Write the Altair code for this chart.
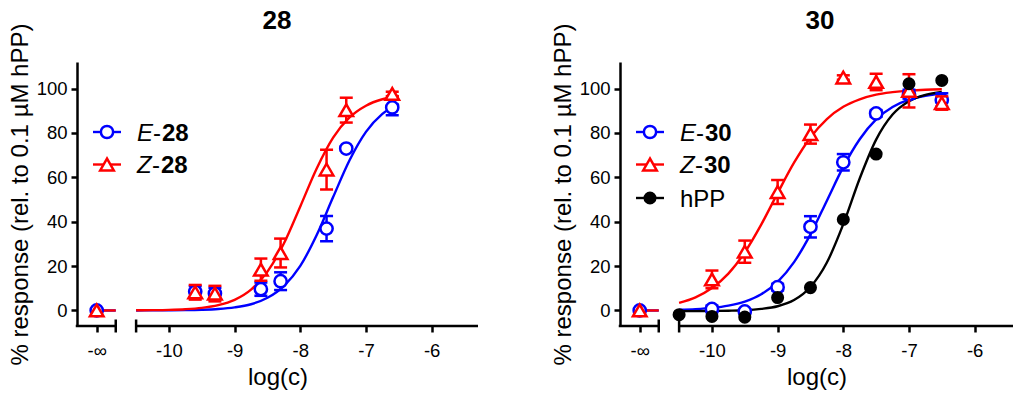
import altair as alt
import pandas as pd

FONT = "Liberation Sans"
BLUE = "#0000ff"
RED = "#ff0000"
BLACK = "#000000"

# ---------------- axis layout (log units) ----------------
X_MIN = -11.4          # left end of the x axis (at the y axis)
NEG_INF_POS = -11.1    # where the "-inf" (no agonist) points sit
BREAK_LO = -10.81      # end of the "-inf" axis segment
BREAK_HI = -10.5       # start of the main axis segment
X_MAX_28 = -5.294
X_MAX_30 = -5.416
X_TICKS = [-10, -9, -8, -7, -6]
Y_TICKS = [0, 20, 40, 60, 80, 100]
Y_DOMAIN = [-7, 112]

PLOT_H = 264
W_28 = 401
W_30 = 393

Y_TITLE = "% response (rel. to 0.1 \u00b5M hPP)"
X_TITLE = "log(c)"

# ---------------- data: compound 28 ----------------
P28_X = [-9.6, -9.3, -8.6, -8.3, -7.6, -7.3, -6.6]
E28_Y = [8.5, 7.7, 9.6, 13.2, 36.9, 73.0, 91.5]
E28_ERR = [2.5, 2.5, 3.0, 4.0, 5.7, 1.0, 3.5]
Z28_Y = [8.2, 7.6, 18.4, 25.9, 63.5, 90.3, 97.6]
Z28_ERR = [3.3, 3.5, 5.0, 6.5, 9.0, 5.6, 1.0]

# ---------------- data: compound 30 ----------------
P30_X = [-10.0, -9.5, -9.0, -8.5, -8.0, -7.5, -7.0, -6.5]
E30_Y = [0.7, -0.4, 10.5, 37.7, 66.8, 88.8, 97.5, 94.9]
E30_ERR = [1.5, 1.0, 1.5, 4.8, 3.7, 1.5, 2.0, 3.0]
Z30_Y = [14.0, 26.5, 53.4, 79.5, 105.0, 103.0, 99.0, 93.5]
Z30_ERR = [4.0, 5.0, 5.4, 4.3, 1.0, 3.7, 7.5, 3.0]
HPP_X = [-10.5, -10.0, -9.5, -9.0, -8.5, -8.0, -7.5, -7.0, -6.5]
HPP_Y = [-1.9, -2.7, -3.0, 5.8, 10.3, 41.0, 70.5, 102.2, 103.7]

NEG_INF_Y = 0.0  # response without ligand (E and Z isomers)

# ---------------- fitted curves ----------------
CURVE_X = [-10.5, -10.25, -10.0, -9.75, -9.5, -9.25, -9.0, -8.75, -8.5,
           -8.25, -8.0, -7.75, -7.5, -7.25, -7.0, -6.75, -6.5]
E28_CURVE = [0.02, 0.04, 0.08, 0.16, 0.34, 0.69, 1.4, 2.8, 5.7,
             11.0, 20.1, 34.0, 51.1, 67.7, 80.5, 88.6, 93.2]
Z28_CURVE = [0.07, 0.14, 0.28, 0.58, 1.18, 2.4, 4.8, 9.4, 17.5,
             30.2, 46.9, 64.0, 77.9, 87.0, 92.3, 95.2, 96.6]
E30_CURVE = [0.33, 0.62, 1.16, 2.17, 4.0, 7.3, 12.9, 21.8, 34.3,
             49.5, 64.7, 77.2, 86.1, 91.7, 95.0, 96.8, 97.8]
Z30_CURVE = [3.4, 5.9, 10.1, 16.6, 26.2, 38.7, 52.9, 66.6, 78.0,
             86.3, 91.8, 95.2, 97.3, 98.4, 99.1, 99.5, 99.7]
HPP_CURVE = [-0.3, -0.3, -0.2, -0.1, 0.1, 0.7, 1.9, 4.7, 10.6,
             21.6, 38.9, 59.5, 77.0, 88.3, 94.3, 97.2, 98.5]

# legend labels: (italic prefix, plain part, bold part)
LEG_28 = [("E", "-", "28"), ("Z", "-", "28")]
LEG_30 = [("E", "-", "30"), ("Z", "-", "30"), ("", "hPP", "")]

LEGEND_ROWS = [70, 102.5, 136]
LEG_FONT = 24

MARK_STROKE = 2.5
AXIS_W = 2.5

X_AXIS = alt.Axis(values=[NEG_INF_POS] + X_TICKS,
                  labelExpr="datum.value < -11 ? '-\u221e' : '' + datum.value",
                  domain=False, tickSize=6, tickWidth=AXIS_W, tickColor=BLACK,
                  labelPadding=9, labelFontSize=18.5, labelFont=FONT,
                  labelColor=BLACK, labelFlush=False, labelOverlap=False,
                  title=X_TITLE, titleFontSize=24, titleFont=FONT,
                  titleFontWeight="normal", titleColor=BLACK, titlePadding=6,
                  grid=False)
Y_AXIS = alt.Axis(values=Y_TICKS, format="d", tickSize=6, tickWidth=AXIS_W,
                  tickColor=BLACK, domainWidth=AXIS_W, domainColor=BLACK,
                  labelPadding=4, labelFontSize=18.5, labelFont=FONT,
                  labelColor=BLACK, title=Y_TITLE, titleFontSize=24,
                  titleFont=FONT, titleFontWeight="normal", titleColor=BLACK,
                  titlePadding=4, grid=False)


def x_enc(xmax, field="x"):
    return alt.X(f"{field}:Q",
                 scale=alt.Scale(domain=[X_MIN, xmax], nice=False, zero=False),
                 axis=X_AXIS)


def y_enc(field="y"):
    return alt.Y(f"{field}:Q",
                 scale=alt.Scale(domain=Y_DOMAIN, nice=False, zero=False),
                 axis=Y_AXIS)


def make_series(name, color, shape, filled, xs, ys, errs, curve, neg_inf):
    return dict(name=name, color=color, shape=shape, filled=filled,
                xs=xs, ys=ys, errs=errs, curve=curve, neg_inf=neg_inf)


def marker(data, s):
    if s["filled"]:
        return alt.Chart(data).mark_point(shape=s["shape"], size=170, filled=True,
                                          color=s["color"], opacity=1, strokeWidth=0)
    return alt.Chart(data).mark_point(shape=s["shape"],
                                      size=150 if s["shape"] == "circle" else 185,
                                      filled=True, fill="white", stroke=s["color"],
                                      strokeWidth=MARK_STROKE, opacity=1)


def panel(title, series, legend, xmax, width):
    layers = []

    # fitted curves
    for s in series:
        df = pd.DataFrame({"x": CURVE_X, "y": s["curve"]})
        layers.append(
            alt.Chart(df).mark_line(color=s["color"], strokeWidth=2.4,
                                    interpolate="monotone")
            .encode(x=x_enc(xmax), y=y_enc())
        )

    # broken x axis: two segments plus end caps
    seg = pd.DataFrame({"x": [X_MIN, BREAK_HI], "x2": [BREAK_LO, xmax]})
    layers.append(
        alt.Chart(seg.iloc[[0]]).mark_rule(color=BLACK, strokeWidth=AXIS_W,
                                           strokeCap="square")
        .encode(x=x_enc(xmax), x2="x2:Q", y=alt.value(PLOT_H))
    )
    layers.append(
        alt.Chart(seg.iloc[[1]]).mark_rule(color=BLACK, strokeWidth=AXIS_W)
        .encode(x=x_enc(xmax), x2="x2:Q", y=alt.value(PLOT_H))
    )
    caps = pd.DataFrame({"x": [BREAK_LO, BREAK_HI]})
    layers.append(
        alt.Chart(caps).mark_rule(color=BLACK, strokeWidth=AXIS_W)
        .encode(x=x_enc(xmax), y=alt.value(PLOT_H - 6.5), y2=alt.value(PLOT_H + 6.5))
    )

    # short baseline lines at -inf
    for s in series:
        if s["neg_inf"] is None:
            continue
        df = pd.DataFrame({"x": [NEG_INF_POS], "x2": [BREAK_LO], "y": [s["neg_inf"]]})
        layers.append(
            alt.Chart(df).mark_rule(color=s["color"], strokeWidth=2.4)
            .encode(x=x_enc(xmax), x2="x2:Q", y=y_enc())
        )

    # error bars and markers
    for s in series:
        if s["errs"] is not None:
            eb = pd.DataFrame({"x": s["xs"], "y": s["ys"], "e": s["errs"]})
            eb["lo"] = eb["y"] - eb["e"]
            eb["hi"] = eb["y"] + eb["e"]
            layers.append(
                alt.Chart(eb).mark_rule(color=s["color"], strokeWidth=MARK_STROKE)
                .encode(x=x_enc(xmax), y=y_enc("lo"), y2="hi:Q")
            )
            capdf = pd.DataFrame({"x": list(eb["x"]) * 2,
                                  "c": list(eb["lo"]) + list(eb["hi"])})
            layers.append(
                alt.Chart(capdf).mark_tick(color=s["color"], orient="horizontal",
                                           size=13, thickness=MARK_STROKE, opacity=1)
                .encode(x=x_enc(xmax), y=y_enc("c"))
            )
        xs = list(s["xs"])
        ys = list(s["ys"])
        if s["neg_inf"] is not None:
            xs = [NEG_INF_POS] + xs
            ys = [s["neg_inf"]] + ys
        pts = pd.DataFrame({"x": xs, "y": ys})
        layers.append(marker(pts, s).encode(x=x_enc(xmax), y=y_enc()))

    # legend (drawn inside the plot area)
    one = pd.DataFrame({"k": [0]})
    for i, (s, lab) in enumerate(zip(series, legend)):
        ry = LEGEND_ROWS[i]
        layers.append(
            alt.Chart(one).mark_rule(color=s["color"], strokeWidth=2.4)
            .encode(x=alt.value(16), x2=alt.value(44), y=alt.value(ry))
        )
        layers.append(marker(one, s).encode(x=alt.value(30), y=alt.value(ry)))
        ital, plain, bold = lab
        tx = 60
        base = ry + 8.6
        if ital:
            layers.append(
                alt.Chart(one).mark_text(align="left", baseline="alphabetic",
                                         font=FONT, fontSize=LEG_FONT,
                                         fontStyle="italic", color=BLACK)
                .encode(x=alt.value(tx), y=alt.value(base), text=alt.value(ital))
            )
            tx += 16 if ital == "E" else 15
        if plain:
            layers.append(
                alt.Chart(one).mark_text(align="left", baseline="alphabetic",
                                         font=FONT, fontSize=LEG_FONT, color=BLACK)
                .encode(x=alt.value(tx), y=alt.value(base), text=alt.value(plain))
            )
            tx += 9
        if bold:
            layers.append(
                alt.Chart(one).mark_text(align="left", baseline="alphabetic",
                                         font=FONT, fontSize=LEG_FONT,
                                         fontWeight="bold", color=BLACK)
                .encode(x=alt.value(tx), y=alt.value(base), text=alt.value(bold))
            )

    # panel title
    layers.append(
        alt.Chart(one).mark_text(align="center", baseline="alphabetic", font=FONT,
                                 fontSize=26, fontWeight="bold", color=BLACK)
        .encode(x=alt.value(200), y=alt.value(-33), text=alt.value(title))
    )

    return alt.layer(*layers).properties(width=width, height=PLOT_H)


s28 = [
    make_series("E-28", BLUE, "circle", False, P28_X, E28_Y, E28_ERR, E28_CURVE, NEG_INF_Y),
    make_series("Z-28", RED, "triangle-up", False, P28_X, Z28_Y, Z28_ERR, Z28_CURVE, NEG_INF_Y),
]
s30 = [
    make_series("E-30", BLUE, "circle", False, P30_X, E30_Y, E30_ERR, E30_CURVE, NEG_INF_Y),
    make_series("Z-30", RED, "triangle-up", False, P30_X, Z30_Y, Z30_ERR, Z30_CURVE, NEG_INF_Y),
    make_series("hPP", BLACK, "circle", True, HPP_X, HPP_Y, None, HPP_CURVE, None),
]

chart = alt.hconcat(
    panel("28", s28, LEG_28, X_MAX_28, W_28),
    panel("30", s30, LEG_30, X_MAX_30, W_30),
    spacing=71,
).properties(padding=0, background="white").configure_view(stroke=None)

chart.save("out.html", embed_options={"renderer": "svg", "actions": False})
